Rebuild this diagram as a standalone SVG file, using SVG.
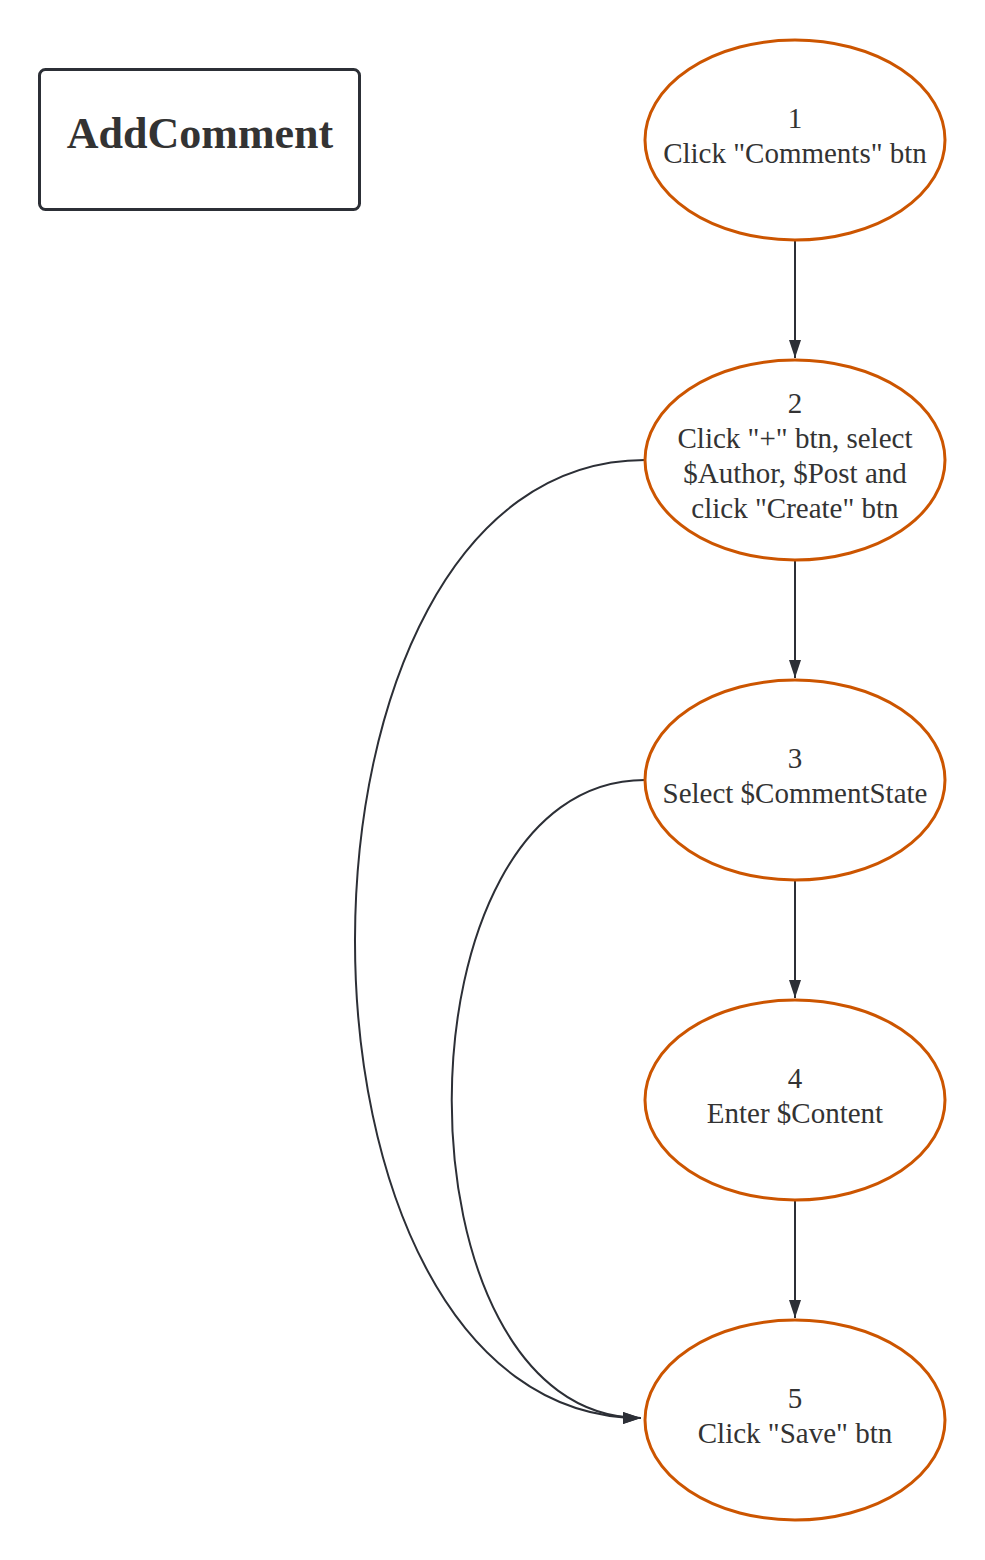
<svg xmlns="http://www.w3.org/2000/svg" width="985" height="1560" viewBox="0 0 985 1560">
  <style>
    .step { fill: #ffffff; stroke: #cc5500; stroke-width: 3; }
    .label { font-family: "Liberation Serif", "Times New Roman", serif; font-size: 29px; fill: #333333; text-anchor: middle; }
    .title { font-family: "Liberation Serif", "Times New Roman", serif; font-size: 44px; font-weight: bold; fill: #333333; text-anchor: middle; }
    .edge { fill: none; stroke: #2c2f36; stroke-width: 2; }
  </style>
  <defs>
    <marker id="arrow" viewBox="0 0 18 12" refX="18" refY="6" markerWidth="18" markerHeight="12" markerUnits="userSpaceOnUse" orient="auto">
      <path d="M0,0 L18,6 L0,12 Z" fill="#2c2f36"/>
    </marker>
  </defs>
  <rect width="985" height="1560" fill="#ffffff"/>

  <g id="title">
    <rect x="39.5" y="69.5" width="320" height="140" rx="6" fill="#ffffff" stroke="#2c2f36" stroke-width="3"/>
    <text class="title" x="200" y="148">AddComment</text>
  </g>

  <g id="connectors">
    <path class="edge" d="M795,241 L795,358" marker-end="url(#arrow)"/>
    <path class="edge" d="M795,561 L795,678" marker-end="url(#arrow)"/>
    <path class="edge" d="M795,881 L795,998" marker-end="url(#arrow)"/>
    <path class="edge" d="M795,1201 L795,1318" marker-end="url(#arrow)"/>
    <path class="edge" d="M645,460 C259,460 259,1418 641,1418" marker-end="url(#arrow)"/>
    <path class="edge" d="M645,780 C388,780 388,1418 641,1418" marker-end="url(#arrow)"/>
  </g>

  <g id="step1">
    <ellipse class="step" cx="795" cy="140" rx="150" ry="100"/>
    <text class="label" x="795" y="128">1</text>
    <text class="label" x="795" y="163">Click "Comments" btn</text>
  </g>

  <g id="step2">
    <ellipse class="step" cx="795" cy="460" rx="150" ry="100"/>
    <text class="label" x="795" y="413">2</text>
    <text class="label" x="795" y="448">Click "+" btn, select</text>
    <text class="label" x="795" y="483">$Author, $Post and</text>
    <text class="label" x="795" y="518">click "Create" btn</text>
  </g>

  <g id="step3">
    <ellipse class="step" cx="795" cy="780" rx="150" ry="100"/>
    <text class="label" x="795" y="768">3</text>
    <text class="label" x="795" y="803">Select $CommentState</text>
  </g>

  <g id="step4">
    <ellipse class="step" cx="795" cy="1100" rx="150" ry="100"/>
    <text class="label" x="795" y="1088">4</text>
    <text class="label" x="795" y="1123">Enter $Content</text>
  </g>

  <g id="step5">
    <ellipse class="step" cx="795" cy="1420" rx="150" ry="100"/>
    <text class="label" x="795" y="1408">5</text>
    <text class="label" x="795" y="1443">Click "Save" btn</text>
  </g>
</svg>
